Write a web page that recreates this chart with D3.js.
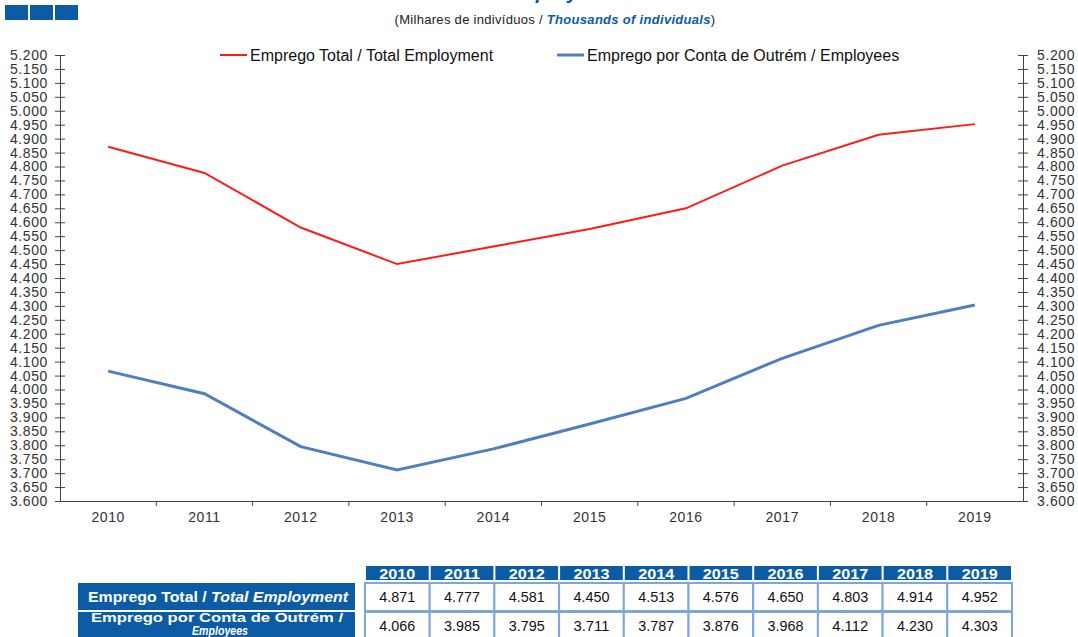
<!DOCTYPE html>
<html>
<head>
<meta charset="utf-8">
<script src="https://cdn.jsdelivr.net/npm/d3@7"></script>
<style>
  body { margin: 0; background: #fff; }
  svg { font-family: "Liberation Sans", Arial, sans-serif; }
</style>
</head>
<body>
<div id="chart"></div>
<script>
// data
var years = ["2010", "2011", "2012", "2013", "2014", "2015", "2016", "2017", "2018", "2019"];
var totalEmp = [4871, 4777, 4581, 4450, 4513, 4576, 4650, 4803, 4914, 4952];
var employees = [4066, 3985, 3795, 3711, 3787, 3876, 3968, 4112, 4230, 4303];
var yTicks = [3600, 3650, 3700, 3750, 3800, 3850, 3900, 3950, 4000, 4050, 4100, 4150, 4200,
  4250, 4300, 4350, 4400, 4450, 4500, 4550, 4600, 4650, 4700, 4750, 4800, 4850, 4900,
  4950, 5000, 5050, 5100, 5150, 5200];

var width = 1078, height = 637;
var blue = "#0b5ca5";

var svg = d3.select("#chart").append("svg")
  .attr("width", width)
  .attr("height", height);

var pt = d3.formatLocale({ decimal: ",", thousands: ".", grouping: [3], currency: ["", "€"] });
var fmt = pt.format(",");
var fmt3 = function(v) { return pt.format(",.3f")(v / 1000).replace(",", "."); };

// header: logo squares, cut title, subtitle
[0, 1, 2].forEach(function(i) {
  svg.append("rect")
    .attr("x", 5 + i * 25).attr("y", 5)
    .attr("width", 23).attr("height", 15)
    .attr("fill", blue);
});
svg.append("text")
  .attr("x", 503).attr("y", -1)
  .attr("font-size", 21).attr("font-weight", "bold").attr("font-style", "italic")
  .attr("fill", blue)
  .text("Employment");

var sub = svg.append("text")
  .attr("x", 555).attr("y", 24)
  .attr("text-anchor", "middle")
  .attr("font-size", 13).attr("fill", "#222")
  .attr("letter-spacing", "0.3");
sub.append("tspan").text("(Milhares  de indivíduos   /  ");
sub.append("tspan").attr("font-weight", "bold").attr("font-style", "italic")
  .attr("fill", blue).text("Thousands  of individuals");
sub.append("tspan").text(")");

// scales
var mL = 60, mR = 1023, mT = 55, mB = 501;
var x = d3.scaleBand().domain(years).range([mL, mR]);
var y = d3.scaleLinear().domain([3600, 5200]).range([mB, mT]);

// axes
var axisCol = "#444";
var gy = svg.append("g").attr("transform", "translate(" + mL + ",0)")
  .call(d3.axisLeft(y).tickValues(yTicks).tickFormat(fmt3).tickSize(5).tickPadding(7));
var gy2 = svg.append("g").attr("transform", "translate(" + mR + ",0)")
  .call(d3.axisRight(y).tickValues(yTicks).tickFormat(fmt3).tickSize(5).tickPadding(9));
[gy, gy2].forEach(function(g) {
  g.select(".domain").attr("stroke", axisCol);
  g.selectAll(".tick line").attr("stroke", axisCol).attr("x1", -5).attr("x2", 5);
  g.selectAll("text").attr("font-size", 14).attr("fill", "#333")
    .attr("letter-spacing", "0.6")
    .attr("font-family", "Liberation Sans, Arial, sans-serif");
});

var gx = svg.append("g").attr("transform", "translate(0," + mB + ")")
  .call(d3.axisBottom(x).tickSize(0).tickPadding(11));
gx.select(".domain").attr("stroke", axisCol);
gx.selectAll("text").attr("font-size", 14).attr("fill", "#333")
  .attr("letter-spacing", "0.6")
  .attr("font-family", "Liberation Sans, Arial, sans-serif");
// tick marks between categories
gx.selectAll(".sep").data(years.slice(1)).enter().append("line")
  .attr("x1", function(d) { return x(d); })
  .attr("x2", function(d) { return x(d); })
  .attr("y1", 0).attr("y2", 5)
  .attr("stroke", axisCol);

// lines
var line = d3.line()
  .x(function(d, i) { return x(years[i]) + x.bandwidth() / 2; })
  .y(function(d) { return y(d); });

svg.append("path").datum(employees)
  .attr("d", line).attr("fill", "none")
  .attr("stroke", "#4f7fbf").attr("stroke-width", 3);
svg.append("path").datum(totalEmp)
  .attr("d", line).attr("fill", "none")
  .attr("stroke", "#ff1a1a").attr("stroke-width", 2);

// legend
var leg = [
  { x: 220, name: "Emprego Total / Total Employment", col: "#ff1a1a", w: 2 },
  { x: 557, name: "Emprego por Conta de Outrém / Employees", col: "#4f7fbf", w: 3 }
];
leg.forEach(function(l) {
  svg.append("line").attr("x1", l.x).attr("x2", l.x + 27)
    .attr("y1", 55).attr("y2", 55)
    .attr("stroke", l.col).attr("stroke-width", l.w);
  svg.append("text").attr("x", l.x + 30).attr("y", 61)
    .attr("font-size", 16).attr("fill", "#111")
    .text(l.name);
});

// data table
var tx = d3.scaleBand().domain(years).range([365, 1012]);
var cellCol = "#7da7da";

svg.selectAll(".hdr").data(years).enter().append("rect")
  .attr("x", function(d) { return tx(d) + 1; })
  .attr("y", 566)
  .attr("width", tx.bandwidth() - 2)
  .attr("height", 14)
  .attr("fill", blue);
svg.selectAll(".hdrt").data(years).enter().append("text")
  .attr("x", function(d) { return tx(d) + tx.bandwidth() / 2 - 18; })
  .attr("y", 578.5)
  .attr("font-size", 15).attr("font-weight", "bold").attr("fill", "#fff")
  .attr("textLength", 36).attr("lengthAdjust", "spacingAndGlyphs")
  .text(function(d) { return d; });

var rows = [
  { y: 583, h: 28, vals: totalEmp },
  { y: 612, h: 28, vals: employees }
];
rows.forEach(function(r) {
  svg.append("rect").attr("x", 78).attr("y", r.y)
    .attr("width", 277).attr("height", r.h - 1)
    .attr("fill", blue);
  svg.selectAll(null).data(years).enter().append("rect")
    .attr("x", function(d) { return tx(d); })
    .attr("y", r.y)
    .attr("width", tx.bandwidth())
    .attr("height", r.h)
    .attr("fill", "#fff")
    .attr("stroke", cellCol).attr("stroke-width", 2);
  svg.selectAll(null).data(r.vals).enter().append("text")
    .attr("x", function(d, i) { return tx(years[i]) + tx.bandwidth() / 2 - 18; })
    .attr("y", r.y + 18.5)
    .attr("font-size", 14).attr("fill", "#111")
    .attr("textLength", 36).attr("lengthAdjust", "spacingAndGlyphs")
    .text(function(d) { return fmt(d); });
});

var l1 = svg.append("text").attr("x", 88).attr("y", 602)
  .attr("font-size", 14).attr("font-weight", "bold").attr("fill", "#fff")
  .attr("textLength", 260).attr("lengthAdjust", "spacingAndGlyphs");
l1.append("tspan").text("Emprego Total / ");
l1.append("tspan").attr("font-style", "italic").text("Total Employment");

svg.append("text").attr("x", 91).attr("y", 622)
  .attr("font-size", 13).attr("font-weight", "bold").attr("fill", "#fff")
  .attr("textLength", 252).attr("lengthAdjust", "spacingAndGlyphs")
  .text("Emprego por Conta de Outrém /");
svg.append("text").attr("x", 192).attr("y", 635)
  .attr("font-size", 13).attr("font-weight", "bold").attr("font-style", "italic")
  .attr("fill", "#fff")
  .attr("textLength", 56).attr("lengthAdjust", "spacingAndGlyphs")
  .text("Employees");
</script>
</body>
</html>
